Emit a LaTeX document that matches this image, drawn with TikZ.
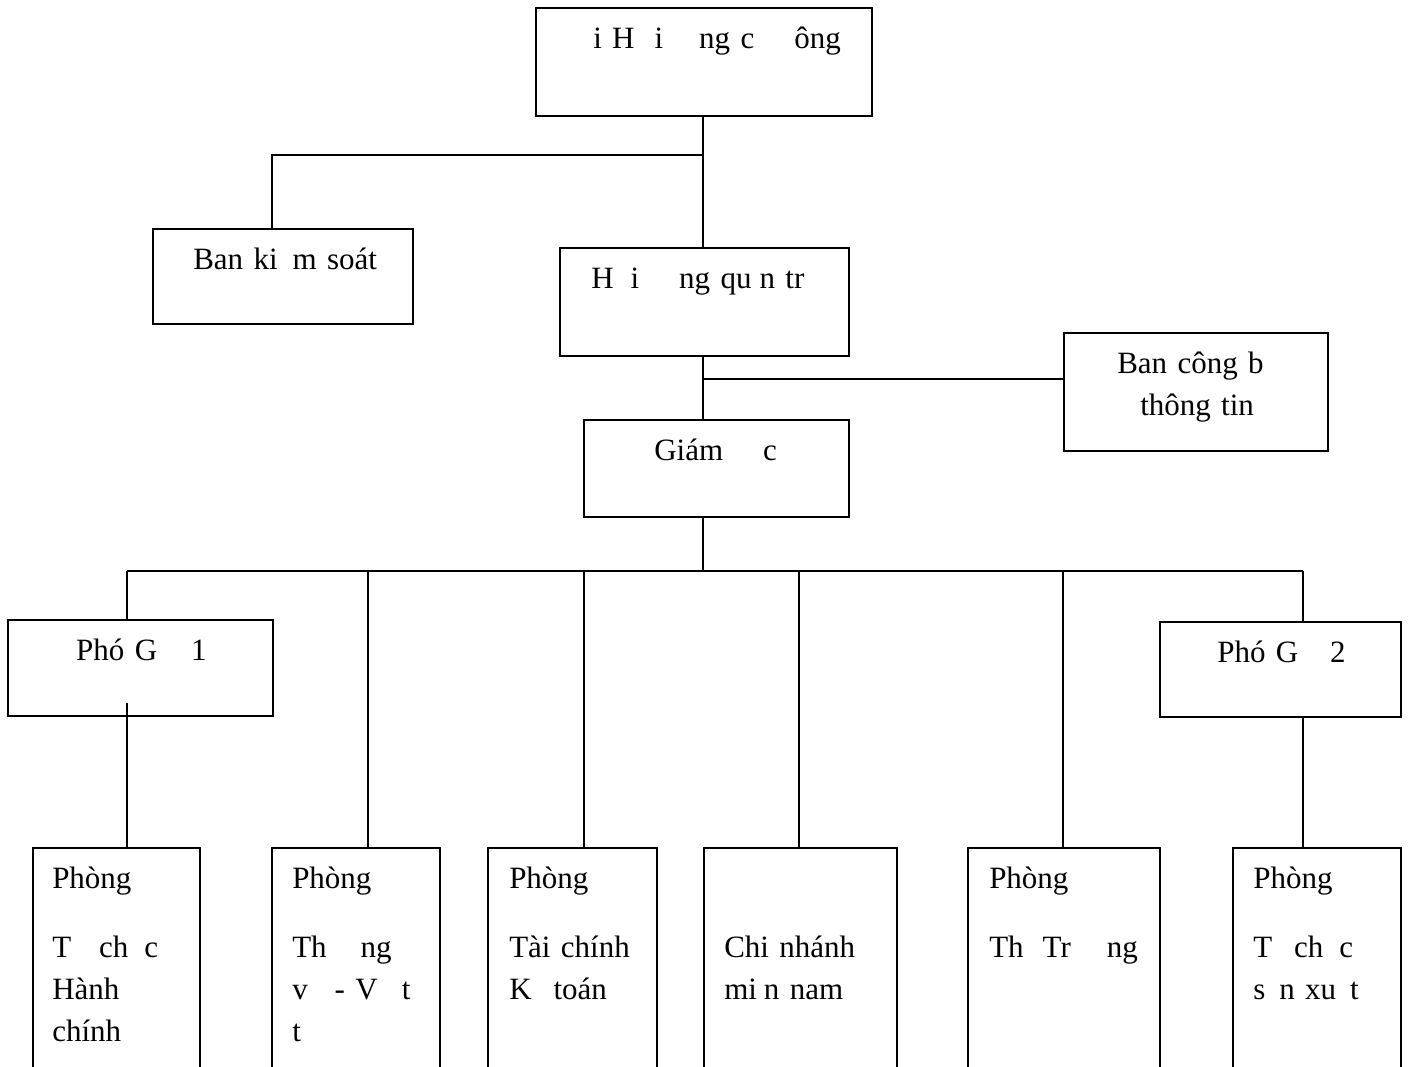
\documentclass[tikz,border=0pt]{standalone}
\usepackage{fontspec}
\setmainfont{Liberation Serif}
\newcommand{\gapw}[1]{\hspace*{#1pt}}
\begin{document}
\begin{tikzpicture}[x=1pt,y=-1pt,line width=1.5pt,
	every node/.style={draw,line width=1.5pt,anchor=north west,inner sep=0pt,
	align=left,font=\fontsize{31}{42}\selectfont,text height=41pt},
	unit/.style n args={3}{text width=#1pt,text depth=#2pt,
	execute at begin node={\leftskip=#3pt}}]
\path[use as bounding box] (0,0) rectangle (1408,1066);
\clip (0,0) rectangle (1408,1066);
% upper boxes
\node[unit={336}{67}{57.5}] (dhcd) at (535,7) {i H\gapw{20}i\gapw{36}ng c\gapw{40}ông};
\node[unit={260}{54}{40.5}] (bks) at (152,228) {Ban ki\gapw{15}m soát};
\node[unit={289}{67}{31.5}] (hdqt) at (559,247) {H\gapw{17}i\gapw{40}ng qu\gapw{8}n tr};
\node[unit={264}{77}{53.5}] (bcb) at (1063,332) {Ban công b\\\gapw{23}thông tin};
\node[unit={265}{56}{70.5}] (gd) at (583,419) {Giám\gapw{40}c};
\node[unit={265}{55}{68.5}] (pgd1) at (7,619) {Phó G\gapw{34}1};
\node[unit={241}{54}{57.5}] (pgd2) at (1159,621) {Phó G\gapw{32}2};
% phong ban
\node[unit={167}{199}{19.5}] (tchc) at (32,847) {Phòng\\[27pt]T\gapw{28}ch\gapw{16}c\\Hành\\chính};
\node[unit={168}{199}{20.5}] (tmvt) at (271,847) {Phòng\\[27pt]Th\gapw{34}ng\\v\gapw{27}- V\gapw{24}t\\t};
\node[unit={169}{199}{21.5}] (tckt) at (487,847) {Phòng\\[27pt]Tài chính\\K\gapw{22}toán};
\node[unit={193}{130}{20.5},text height=110pt] (cnmn) at (703,847) {Chi nhánh\\mi\gapw{7}n nam};
\node[unit={192}{199}{21.5}] (ttr) at (967,847) {Phòng\\[27pt]Th\gapw{19}Tr\gapw{36}ng};
\node[unit={168}{199}{20.5}] (tcsx) at (1232,847) {Phòng\\[27pt]T\gapw{22}ch\gapw{16}c\\s\gapw{14}n xu\gapw{14}t};
% connectors
\coordinate (j1) at (703,155);
\coordinate (k1) at (272,155);
\coordinate (j2) at (703,379);
\coordinate (j3) at (703,571);
\draw (j1 |- dhcd.south) -- (j1 |- hdqt.north);
\draw (j1) -- (k1) -- (k1 |- bks.north);
\draw (j2 |- hdqt.south) -- (j2 |- gd.north);
\draw (j2) -- (j2 -| bcb.west);
\draw (j3 |- gd.south) -- (j3);
\draw (j3 -| 127,0) -- (j3 -| 1303,0);
\foreach \n/\x in {pgd1/127,tmvt/368,tckt/584,cnmn/799,ttr/1063,pgd2/1303}
	\draw (j3 -| \x,0) -- (\n.north -| \x,0);
\draw (tchc.north -| 127,0) -- ++(0,-144);
\draw (pgd2.south -| 1303,0) -- (tcsx.north -| 1303,0);
\end{tikzpicture}
\end{document}
